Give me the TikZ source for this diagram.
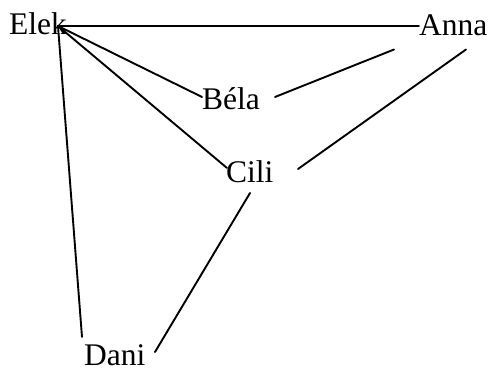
\documentclass[tikz,border=0pt]{standalone}
\usepackage{fontspec}
\setmainfont{Liberation Serif}
\usetikzlibrary{calc}
\begin{document}
\begin{tikzpicture}[x=1pt,y=-1pt,
  person/.style={inner sep=0pt,anchor=base west,font=\fontsize{31.5}{31.5}\selectfont},
  edge/.style={line width=1.9pt,line cap=round}]
\useasboundingbox (0,0) rectangle (493,371);
% names
\node[person] (elek) at (9,35) {Elek};
\node[person] (anna) at (419,35.5) {Anna};
\node[person] (bela) at (202,110) {Béla};
\node[person] (cili) at (226,183) {Cili};
\node[person] (dani) at (84,366) {Dani};
% connector ends, placed relative to each name
\coordinate (hub)   at ($(elek.base west)+(49,-9)$);
\coordinate (annaW) at ($(anna.base west)+(0,-9.5)$);
\coordinate (annaL) at ($(anna.base west)+(-25,14)$);
\coordinate (annaR) at ($(anna.base west)+(47,14)$);
\coordinate (belaW) at ($(bela.base west)+(0,-13)$);
\coordinate (belaE) at ($(bela.base west)+(73,-13)$);
\coordinate (ciliW) at ($(cili.base west)+(1,-15)$);
\coordinate (ciliE) at ($(cili.base west)+(72,-14)$);
\coordinate (ciliS) at ($(cili.base west)+(24,10)$);
\coordinate (daniN) at ($(dani.base west)+(-2,-29)$);
\coordinate (daniE) at ($(dani.base west)+(71,-14)$);
% connectors
\draw[edge] (hub) -- (annaW);
\draw[edge] (hub) -- (belaW);
\draw[edge] (hub) -- (ciliW);
\draw[edge] (hub) -- (daniN);
\draw[edge] (annaL) -- (belaE);
\draw[edge] (annaR) -- (ciliE);
\draw[edge] (ciliS) -- (daniE);
\end{tikzpicture}
\end{document}
